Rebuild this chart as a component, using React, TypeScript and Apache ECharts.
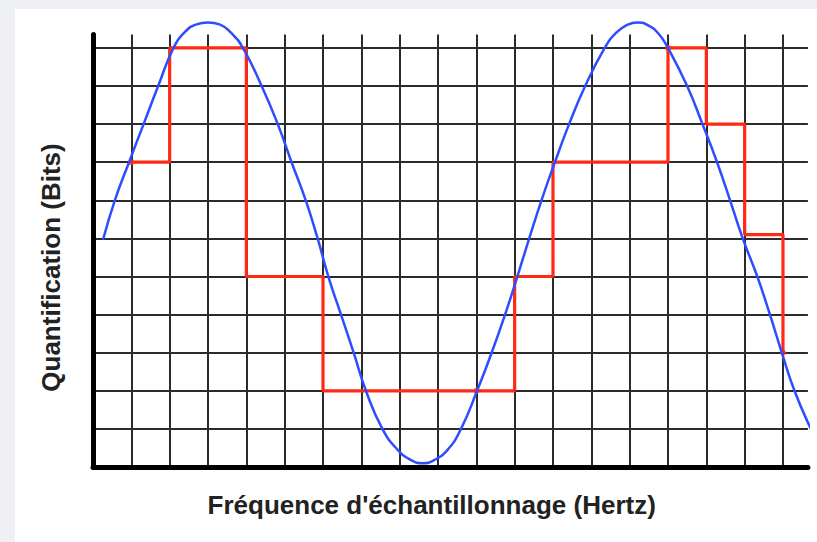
import React, { useEffect, useRef } from "react";
import * as echarts from "echarts";

const xAxisTitle = "Fréquence d'échantillonnage (Hertz)";
const yAxisTitle = "Quantification (Bits)";

const xMin = 0;
const xMax = 18.65;
const yMin = 0;
const yMax = 11.35;

// analog signal (blue): [sample index, level]
const analogSignal: [number, number][] = [
  [0.26, 5.96], [0.57, 7.0], [0.94, 8.0], [1.32, 9.0], [1.7, 10.0], [2.1, 11.0],
  [2.4, 11.42], [2.7, 11.62], [3.0, 11.67], [3.3, 11.62], [3.6, 11.4], [3.91, 11.0],
  [4.4, 10.0], [4.82, 9.0], [5.18, 8.0], [5.55, 7.0], [5.86, 6.0], [6.14, 5.0],
  [6.47, 4.0], [6.8, 3.0], [7.12, 2.0], [7.55, 1.0], [7.95, 0.45], [8.3, 0.18],
  [8.6, 0.1], [8.9, 0.18], [9.25, 0.45], [9.6, 1.0], [10.02, 2.0], [10.4, 3.0],
  [10.75, 4.0], [11.07, 5.0], [11.38, 6.0], [11.7, 7.0], [12.05, 8.0], [12.42, 9.0],
  [12.84, 10.0], [13.35, 11.0], [13.65, 11.4], [13.95, 11.61], [14.2, 11.67], [14.47, 11.6],
  [14.75, 11.38], [15.0, 11.0], [15.5, 10.0], [15.9, 9.0], [16.28, 8.0], [16.62, 7.0],
  [16.95, 6.0], [17.33, 5.0], [17.66, 4.0], [17.97, 3.0], [18.3, 2.0], [18.75, 0.95],
  [18.9, 0.68],
];

// quantized signal (red steps)
const quantizedSteps: [number, number][] = [
  [1, 8], [2, 11], [4, 5], [6, 2], [11, 5], [12, 8], [15, 11], [16, 9], [17, 6.1], [18, 3],
];

// small sample dots on the red line
const sampleDots: [number, number][] = [[1, 8], [10, 2], [15, 11], [18, 3]];

export default function App() {
  const ref = useRef<HTMLDivElement>(null);

  useEffect(() => {
    if (!ref.current) return;
    const chart = echarts.init(ref.current, undefined, { renderer: "svg" });
    const gridColor = "#2b2b2b";
    chart.setOption({
      animation: false,
      backgroundColor: "transparent",
      grid: {
        left: 78,
        top: 25.6,
        width: 714.9,
        height: 432.4,
        containLabel: false,
      },
      xAxis: {
        type: "value",
        min: xMin,
        max: xMax,
        interval: 1,
        axisLine: { show: true, onZero: false, lineStyle: { color: "#000", width: 5, cap: "round" } },
        axisTick: { show: false },
        axisLabel: { show: false },
        splitLine: {
          show: true,
          showMinLine: false,
          showMaxLine: false,
          lineStyle: { color: gridColor, width: 2 },
        },
      },
      yAxis: {
        type: "value",
        min: yMin,
        max: yMax,
        interval: 1,
        axisLine: { show: true, onZero: false, lineStyle: { color: "#000", width: 5, cap: "round" } },
        axisTick: { show: false },
        axisLabel: { show: false },
        splitLine: {
          show: true,
          showMinLine: false,
          showMaxLine: false,
          lineStyle: { color: gridColor, width: 2 },
        },
      },
      series: [
        {
          type: "line",
          name: "quantized",
          data: quantizedSteps,
          step: "end",
          showSymbol: false,
          clip: false,
          z: 3,
          lineStyle: { color: "#ff2a14", width: 3.2 },
        },
        {
          type: "scatter",
          name: "samples",
          data: sampleDots,
          symbolSize: 6,
          clip: false,
          z: 3,
          itemStyle: { color: "#ff2a14" },
        },
        {
          type: "line",
          name: "analog",
          data: analogSignal,
          smooth: true,
          showSymbol: false,
          clip: false,
          z: 4,
          lineStyle: { color: "#2f4dff", width: 2.5 },
        },
      ],
      graphic: [
        {
          type: "text",
          x: 416.7,
          y: 496,
          style: {
            text: xAxisTitle,
            font: 'bold 26px "Liberation Sans", Arial, sans-serif',
            fill: "#222",
            align: "center",
            verticalAlign: "middle",
          },
        },
        {
          type: "text",
          x: 36,
          y: 258.5,
          rotation: Math.PI / 2,
          style: {
            text: yAxisTitle,
            font: 'bold 26px "Liberation Sans", Arial, sans-serif',
            fill: "#222",
            align: "center",
            verticalAlign: "middle",
          },
        },
      ],
    });
    return () => chart.dispose();
  }, []);

  return (
    <div
      style={{
        position: "fixed",
        left: 0,
        top: 0,
        width: 817,
        height: 542,
        background: "#eef0f3",
        overflow: "hidden",
      }}
    >
      <div
        ref={ref}
        style={{
          position: "absolute",
          left: 15,
          top: 9,
          width: 802,
          height: 533,
          background: "#fff",
        }}
      />
    </div>
  );
}
